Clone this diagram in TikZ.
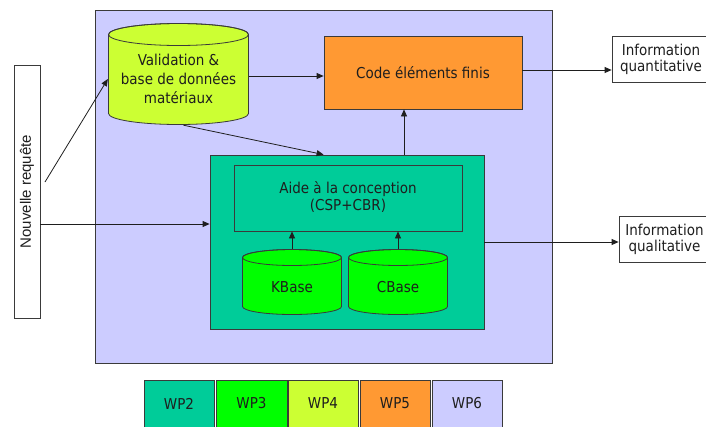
\documentclass[tikz,border=0pt]{standalone}
\usepackage{fontspec}
\usepackage{graphicx}
\setmainfont{DejaVu Sans}[FakeStretch=0.9]
\newfontfamily\arialf{Liberation Sans}
\usetikzlibrary{arrows.meta,calc}
\definecolor{lav}{HTML}{CCCCFF}
\definecolor{ygreen}{HTML}{CCFF33}
\definecolor{orng}{HTML}{FF9933}
\definecolor{teal2}{HTML}{00CC99}
\definecolor{grn}{HTML}{00FF00}
\definecolor{bord}{HTML}{3A3A3A}
\definecolor{txt}{HTML}{1E1E1E}
\begin{document}
\begin{tikzpicture}[x=1pt,y=-1pt,
  box/.style={rectangle, draw=bord, line width=0.8pt, inner sep=0pt, text=txt,
    font=\fontsize{15}{18}\selectfont, align=center},
  dbcyl/.style n args={3}{rectangle, inner sep=0pt, path picture={
    \filldraw[fill=#1, draw=bord, line width=0.8pt]
      ([shift={(0.5pt,-#3-0.5pt)}]path picture bounding box.north west)
      -- ([shift={(0.5pt,#3+0.5pt)}]path picture bounding box.south west)
      arc[start angle=180,end angle=360,x radius=#2,y radius=#3]
      -- ([shift={(-0.5pt,-#3-0.5pt)}]path picture bounding box.north east)
      arc[start angle=0,end angle=180,x radius=#2,y radius=#3] -- cycle;
    \draw[bord, line width=0.8pt] ([yshift=-#3-0.5pt]path picture bounding box.north)
      ellipse[x radius=#2,y radius=#3];
  }},
  lbl/.style={inner sep=0pt, text=txt, font=\fontsize{15}{19}\selectfont, align=center},
  arr/.style={draw=txt, line width=0.8pt, -{Triangle[length=7pt,width=6pt]}}
]
\useasboundingbox (0,0) rectangle (706,426);
\clip (0,0) rectangle (706,426);

% main lavender area
\node[box, fill=lav, minimum width=457, minimum height=353] (area) at (323.5,186.5) {};

% Nouvelle requete
\node[box, fill=white, minimum width=26, minimum height=253] (nr) at (27,191.5)
  {\rotatebox{90}{\arialf\fontsize{15}{17}\selectfont Nouvelle requête}};

% Validation cylinder
\node[dbcyl={ygreen}{70pt}{11pt}, minimum width=141, minimum height=102] (valcyl) at (178.5,74) {};
\node[lbl] (valtxt) at (178.5,79) {Validation \&\\base de données\\matériaux};

% Code elements finis
\node[box, fill=orng, minimum width=198, minimum height=73] (code) at (423,72.5) {Code éléments finis};

% WP2 block
\node[box, fill=teal2, minimum width=274, minimum height=174] (wp2box) at (347,242) {};
\node[box, fill=teal2, minimum width=228, minimum height=66] (aide) at (348,198)
  {\raisebox{2pt}{\begin{tabular}{@{}c@{}}Aide à la conception\\[-1pt](CSP+CBR)\end{tabular}}};

% KBase / CBase
\node[dbcyl={grn}{49.5pt}{8pt}, minimum width=100, minimum height=66] (kb) at (292,282) {};
\node[lbl] (kbtxt) at (292,287) {KBase};
\node[dbcyl={grn}{49.5pt}{8pt}, minimum width=100, minimum height=66] (cb) at (398,282) {};
\node[lbl] (cbtxt) at (398,287) {CBase};

% Information boxes
\node[box, fill=white, minimum width=98, minimum height=46] (iquant) at (661,59)
  {Information\\[-2pt]quantitative};
\node[box, fill=white, minimum width=91, minimum height=46] (iqual) at (664.5,239)
  {Information\\[-2pt]qualitative};

% legend
\node[box, fill=teal2, minimum width=70, minimum height=47] (wp2) at (179,403.5) {WP2};
\node[box, fill=grn, minimum width=71, minimum height=47] (wp3) at (251.5,403.5) {WP3};
\node[box, fill=ygreen, minimum width=70, minimum height=47] (wp4) at (323,403.5) {WP4};
\node[box, fill=orng, minimum width=70, minimum height=47] (wp5) at (395,403.5) {WP5};
\node[box, fill=lav, minimum width=70, minimum height=47] (wp6) at (467,403.5) {WP6};

% helper coordinates
\coordinate (nrout) at (45,182);
\coordinate (y224) at (0,224);
\coordinate (y76) at (0,76);
\coordinate (y70) at (0,70);
\coordinate (x404) at (404,0);

% connectors
\draw[arr] (nrout) -- ([yshift=-5pt]valcyl.west);
\draw[arr] (nr.east |- y224) -- (wp2box.west |- y224);
\draw[arr] (valcyl.east |- y76) -- (code.west |- y76);
\draw[arr] ([xshift=5pt]valcyl.south) -- (code.west |- wp2box.north);
\draw[arr] (wp2box.north -| x404) -- (code.south -| x404);
\draw[arr] (code.east |- y70) -- (iquant.west |- y70);
\draw[arr] (wp2box.east) -- (iqual.west |- wp2box.east);
\draw[arr] (kb.north) -- (aide.south -| kb.north);
\draw[arr] (cb.north) -- (aide.south -| cb.north);
\end{tikzpicture}
\end{document}
